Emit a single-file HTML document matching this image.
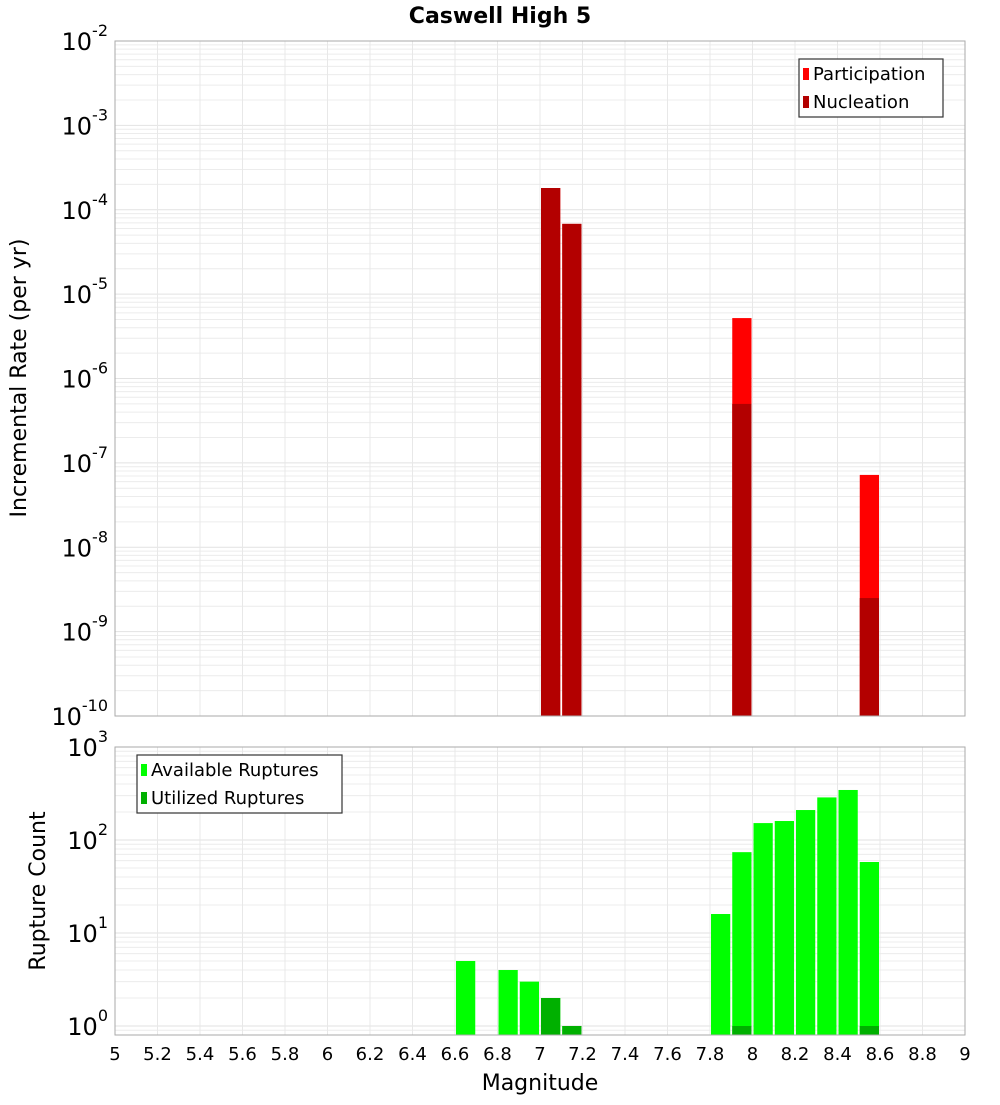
<!DOCTYPE html>
<html><head><meta charset="utf-8"><style>
body{margin:0;background:#fff;width:1000px;height:1100px;overflow:hidden}
svg text{font-family:"DejaVu Sans","Liberation Sans",sans-serif}
</style></head><body>
<svg id="c" width="1000" height="1100" xmlns="http://www.w3.org/2000/svg"></svg>
<script>
const binCenters=[7.05,7.15,7.95,8.55];
const participation=[1.81e-4,6.8e-5,5.2e-6,7.2e-8];
const nucleation=[1.81e-4,6.8e-5,5.0e-7,2.5e-9];
const countBins=[6.65,6.85,6.95,7.05,7.15,7.85,7.95,8.05,8.15,8.25,8.35,8.45,8.55];
const available=[5,4,3,2,1,16,74,152,160,210,287,345,58];
const utilized=[0,0,0,2,1,0,1,0,0,0,0,0,1];
const xTicks=[5,5.2,5.4,5.6,5.8,6,6.2,6.4,6.6,6.8,7,7.2,7.4,7.6,7.8,8,8.2,8.4,8.6,8.8,9];
const topExps=[-2,-3,-4,-5,-6,-7,-8,-9,-10];
const botExps=[3,2,1,0];

const NS='http://www.w3.org/2000/svg';
const svg=document.getElementById('c');
function mk(tag,attrs,parent){const e=document.createElementNS(NS,tag);for(const k in attrs)e.setAttribute(k,attrs[k]);(parent||svg).appendChild(e);return e;}
const X0=115,X1=965;
const xs=m=>X0+(m-5)/4*(X1-X0);
const T0=41,T1=716;
const yT=v=>T0+(-2-Math.log10(v))/8*(T1-T0);
const B0=747,B1=1035,BD=93,BONE=1026;
const yB=v=>BONE-Math.log10(v)*BD;
const bw=21.25;

// title
let t=mk('text',{x:500,y:23,'text-anchor':'middle','font-size':22,'font-weight':'bold',fill:'#000'});
t.textContent='Caswell High 5';



function grid(yTop,yBot,yfun,eMin,eMax,gname){
  const g=mk('g',{});
  
  
  for(let e=eMin;e<=eMax;e++){for(let k=1;k<=9;k++){const y=yfun(k*Math.pow(10,e));if(y<yTop-0.5||y>yBot+0.5)continue;mk('line',{x1:X0,x2:X1,y1:y,y2:y,stroke:k==1?'#e2e2e2':'#ececec','stroke-width':1},g);}}
  xTicks.forEach(m=>{const x=xs(m);mk('line',{x1:x,x2:x,y1:yTop,y2:yBot,stroke:'#e8e8e8','stroke-width':1},g);});
}
grid(T0,T1,yT,-10,-3,'top-grid');
grid(B0,B1,yB,-1,2,'bottom-grid');

// top bars
binCenters.forEach((m,i)=>{
  const x=xs(m)-bw/2+1,w=bw-2;
  let r=mk('rect',{x:x,y:yT(participation[i]),width:w,height:T1-yT(participation[i]),fill:'#ff0000'});
  
  
  r=mk('rect',{x:x,y:yT(nucleation[i]),width:w,height:T1-yT(nucleation[i]),fill:'#b30000'});
  
  
});
// bottom bars
countBins.forEach((m,i)=>{
  const x=xs(m)-bw/2+1,w=bw-2;
  let r=mk('rect',{x:x,y:yB(available[i]),width:w,height:B1-yB(available[i]),fill:'#00ff00'});
  
  
  if(utilized[i]>0){r=mk('rect',{x:x,y:yB(utilized[i]),width:w,height:B1-yB(utilized[i]),fill:'#00b000'});
  
  }
});

// frames
let f=mk('rect',{x:X0,y:T0,width:X1-X0,height:T1-T0,fill:'none',stroke:'#aaa'});


f=mk('rect',{x:X0,y:B0,width:X1-X0,height:B1-B0,fill:'none',stroke:'#aaa'});



// y tick labels
function ylab(y,e,name){
  const tx=mk('text',{x:108,y:y+9,'text-anchor':'end','font-size':24,fill:'#000'});
  
  
  const a=mk('tspan',{},tx);a.textContent='10';
  const b=mk('tspan',{dy:-14,'font-size':16},tx);b.textContent=String(e);
}
topExps.forEach(e=>ylab(yT(Math.pow(10,e)),e,'top-y-tick-label'));
botExps.forEach(e=>ylab(yB(Math.pow(10,e)),e,'bottom-y-tick-label'));
// x labels
xTicks.forEach(m=>{const tx=mk('text',{x:xs(m),y:1060,'text-anchor':'middle','font-size':18,fill:'#000'});tx.textContent=String(m);

});

t=mk('text',{x:540,y:1090,'text-anchor':'middle','font-size':22,fill:'#000'});t.textContent='Magnitude';


t=mk('text',{x:0,y:0,'text-anchor':'middle','font-size':22,fill:'#000',transform:'translate(26,378) rotate(-90)'});t.textContent='Incremental Rate (per yr)';


t=mk('text',{x:0,y:0,'text-anchor':'middle','font-size':22,fill:'#000',transform:'translate(45,891) rotate(-90)'});t.textContent='Rupture Count';



function legend(x,y,w,items,name){
  const g=mk('g',{});
  
  
  mk('rect',{x:x,y:y,width:w,height:58,fill:'#fff',stroke:'#333','stroke-width':1.2},g);
  items.forEach((it,i)=>{
    mk('rect',{x:x+4,y:y+9+i*28,width:6,height:12,fill:it[1]},g);
    const tx=mk('text',{x:x+14,y:y+21+i*28,'font-size':18,fill:'#000'},g);tx.textContent=it[0];
  });
}
legend(799,59,144,[['Participation','#ff0000'],['Nucleation','#b30000']],'top-legend');
legend(137,755,205,[['Available Ruptures','#00ff00'],['Utilized Ruptures','#00b000']],'bottom-legend');
</script>
</body></html>
